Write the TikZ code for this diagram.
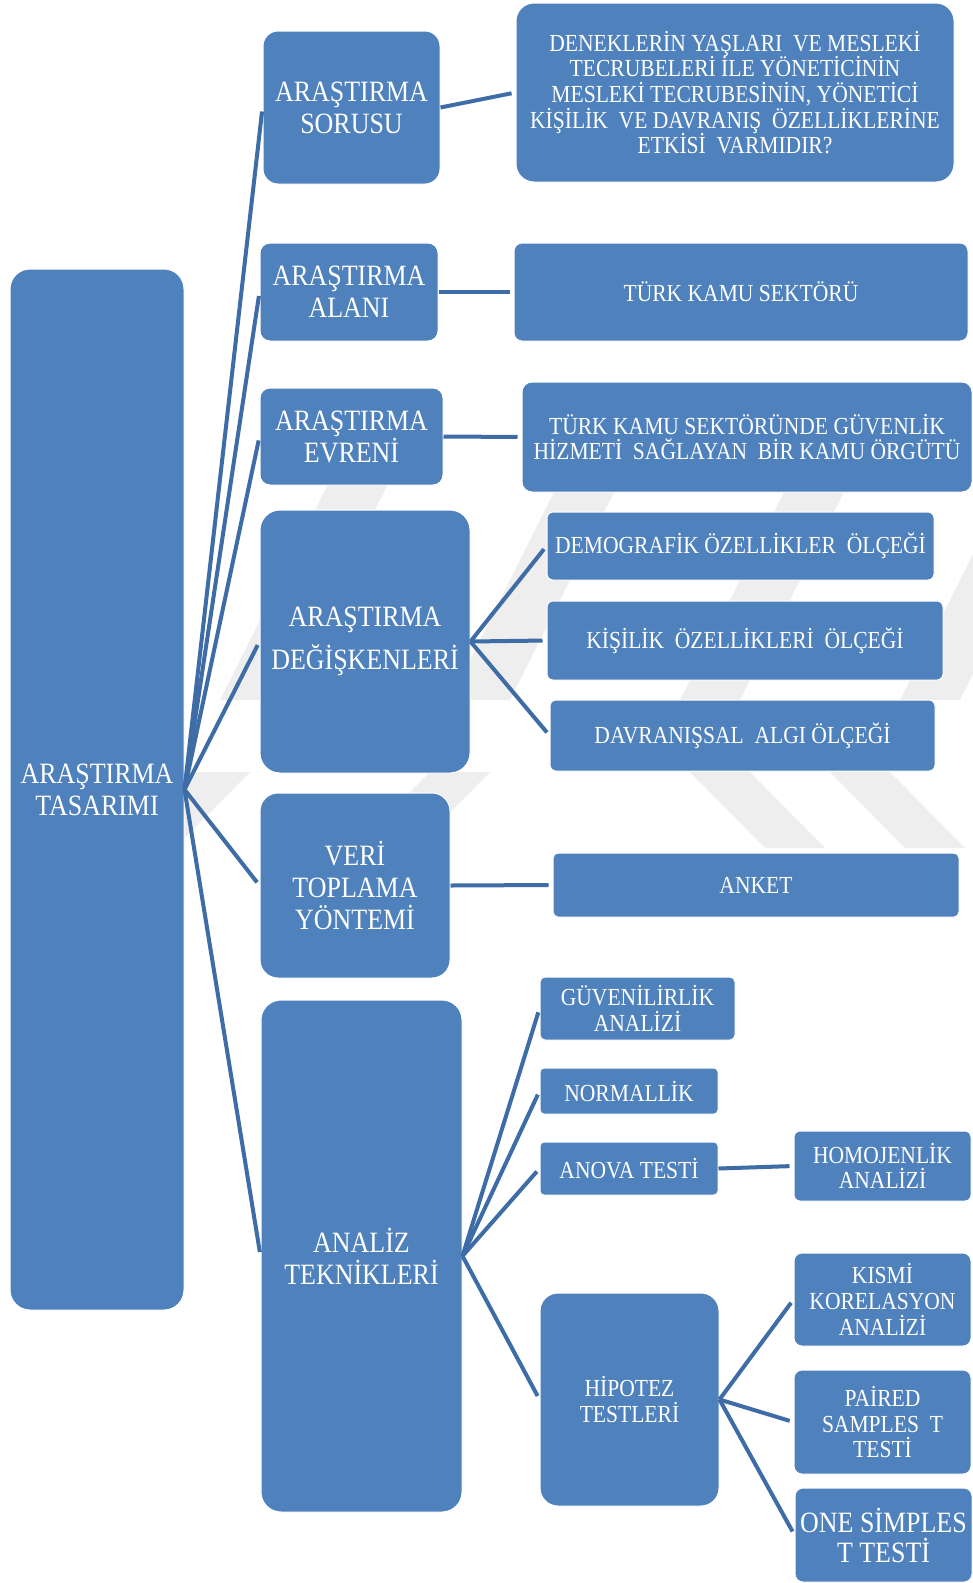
\documentclass[tikz,border=0pt]{standalone}
\usepackage{fontspec}
\setmainfont{Liberation Serif}[FakeStretch=0.88]
\definecolor{boxblue}{RGB}{79,129,189}
\definecolor{linkblue}{RGB}{62,108,166}
\definecolor{wmgray}{RGB}{238,238,238}
\newcommand\bigtxt{\fontsize{29.5}{32}\selectfont}
\newcommand\smalltxt{\fontsize{24.5}{25.7}\selectfont}
\tikzset{
  box/.style={rectangle, fill=boxblue, draw=white, line width=1pt, text=white,
    align=center, inner sep=0pt, font=\bigtxt},
  sbox/.style={box, font=\smalltxt},
  link/.style={draw=linkblue, line width=4pt, shorten >=4pt},
}
\begin{document}
\begin{tikzpicture}[x=1pt,y=-1pt]
\useasboundingbox (0,0) rectangle (973,1583);
\fill[white] (0,0) rectangle (973,1583);
% faint watermark
\foreach \a in {120,330,560,790,1010}{
  \fill[wmgray] (\a,480) -- (\a+60,480) -- (\a-50,700) -- (\a-110,700) -- cycle;
}
\foreach \a in {190,430}{
  \fill[wmgray] (\a,772) -- (\a+60,772) -- (\a-15,848) -- (\a-75,848) -- cycle;
}
\foreach \a in {690,830}{
  \fill[wmgray] (\a,772) -- (\a+60,772) -- (\a+135,848) -- (\a+75,848) -- cycle;
}
% level 0
\node[box, minimum width=174pt, minimum height=1041pt, rounded corners=20pt] (root) at (97,789.5) {ARAŞTIRMA\\TASARIMI};
% level 1
\node[box, minimum width=177pt, minimum height=153pt, rounded corners=15pt] (sor) at (351.5,107.5) {ARAŞTIRMA\\SORUSU};
\node[box, minimum width=178pt, minimum height=98pt, rounded corners=10pt] (ala) at (349,292) {ARAŞTIRMA\\ALANI};
\node[box, minimum width=183pt, minimum height=97pt, rounded corners=10pt] (evr) at (351.5,436.5) {ARAŞTIRMA\\EVRENİ};
\node[box, minimum width=210pt, minimum height=263pt, rounded corners=20pt, font=\fontsize{29.5}{43}\selectfont] (deg) at (365,641.5) {ARAŞTIRMA\\DEĞİŞKENLERİ};
\node[box, minimum width=190pt, minimum height=185pt, rounded corners=18pt] (ver) at (355,885.5) {VERİ\\TOPLAMA\\YÖNTEMİ};
\node[box, minimum width=201pt, minimum height=512pt, rounded corners=20pt] (ana) at (361.5,1256) {ANALİZ\\TEKNİKLERİ};
% level 2
\node[sbox, minimum width=438pt, minimum height=179pt, rounded corners=18pt] (den) at (735,92.5) {DENEKLERİN YAŞLARI\ \ VE MESLEKİ\\TECRUBELERİ İLE YÖNETİCİNİN\\MESLEKİ TECRUBESİNİN, YÖNETİCİ\\KİŞİLİK\ \ VE DAVRANIŞ\ \ ÖZELLİKLERİNE\\ETKİSİ\ \ VARMIDIR?};
\node[sbox, minimum width=454pt, minimum height=98pt, rounded corners=8pt] (tks) at (741,292) {TÜRK KAMU SEKTÖRÜ};
\node[sbox, minimum width=450pt, minimum height=110pt, rounded corners=10pt] (tkg) at (747,437) {TÜRK KAMU SEKTÖRÜNDE GÜVENLİK\\HİZMETİ\ \ SAĞLAYAN\ \ BİR KAMU ÖRGÜTÜ};
\node[sbox, minimum width=387pt, minimum height=68pt, rounded corners=6pt] (dem) at (740.5,546) {DEMOGRAFİK ÖZELLİKLER\ \ ÖLÇEĞİ};
\node[sbox, minimum width=396pt, minimum height=79pt, rounded corners=6pt] (kis) at (745,640.5) {KİŞİLİK\ \ ÖZELLİKLERİ\ \ ÖLÇEĞİ};
\node[sbox, minimum width=385pt, minimum height=71pt, rounded corners=6pt] (dav) at (742.5,735.5) {DAVRANIŞSAL\ \ ALGI ÖLÇEĞİ};
\node[sbox, minimum width=406pt, minimum height=64pt, rounded corners=5pt] (ank) at (756,885) {ANKET};
\node[sbox, minimum width=195pt, minimum height=63pt, rounded corners=5pt] (guv) at (637.5,1008.5) {GÜVENİLİRLİK\\ANALİZİ};
\node[sbox, minimum width=178pt, minimum height=46pt, rounded corners=4pt] (nor) at (629,1091) {NORMALLİK};
\node[sbox, minimum width=178pt, minimum height=53pt, rounded corners=4pt] (ano) at (629,1168.5) {ANOVA TESTİ};
\node[sbox, minimum width=179pt, minimum height=213pt, rounded corners=18pt] (hip) at (629.5,1399.5) {HİPOTEZ\\TESTLERİ};
% level 3
\node[sbox, minimum width=177pt, minimum height=70pt, rounded corners=6pt] (hom) at (882.5,1166) {HOMOJENLİK\\ANALİZİ};
\node[sbox, minimum width=177pt, minimum height=93pt, rounded corners=8pt] (ksm) at (882.5,1299.5) {KISMİ\\KORELASYON\\ANALİZİ};
\node[sbox, minimum width=177pt, minimum height=104pt, rounded corners=8pt] (pai) at (882.5,1422) {PAİRED\\SAMPLES\ \ T\\TESTİ};
\node[box, minimum width=177pt, minimum height=94pt, rounded corners=8pt, font=\fontsize{29.5}{30}\selectfont] (one) at (883.5,1535) {ONE SİMPLES\\T TESTİ};
% connectors
\foreach \c in {sor,ala,evr,deg,ver,ana}{
  \draw[link] (root.east) -- (\c.west);
}
\draw[link] (sor.east) -- (den.west);
\draw[link] (ala.east) -- (tks.west);
\draw[link] (evr.east) -- (tkg.west);
\foreach \c in {dem,kis,dav}{
  \draw[link] (deg.east) -- (\c.west);
}
\draw[link] (ver.east) -- (ank.west);
\foreach \c in {guv,nor,ano,hip}{
  \draw[link] (ana.east) -- (\c.west);
}
\draw[link] (ano.east) -- (hom.west);
\foreach \c in {ksm,pai,one}{
  \draw[link] (hip.east) -- (\c.west);
}
\end{tikzpicture}
\end{document}
